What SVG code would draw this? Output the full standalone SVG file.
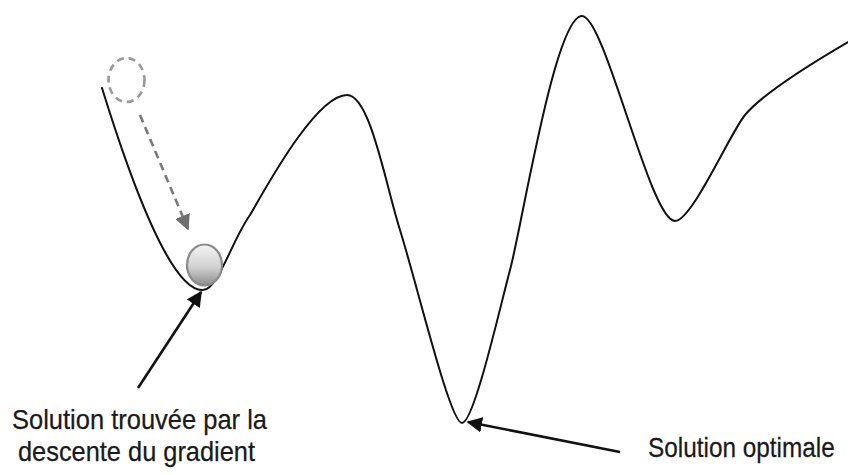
<svg xmlns="http://www.w3.org/2000/svg" width="848" height="475" viewBox="0 0 848 475">
  <defs>
    <style>
      .curve { fill: none; stroke: #111; stroke-width: 2; stroke-linecap: round; }
      .arrow { fill: none; stroke: #111; stroke-width: 2.6; }
      .dash { fill: none; stroke: #7a7a7a; stroke-width: 2.6; stroke-dasharray: 8 5; }
      .lbl { font-family: "Liberation Sans", Arial, sans-serif; font-size: 28px; fill: #1a1a1a; stroke: #1a1a1a; stroke-width: 0.25; }
    </style>
    <marker id="blackHead" viewBox="0 0 10 10" refX="9" refY="5" markerWidth="6" markerHeight="6" markerUnits="strokeWidth" orient="auto">
      <path d="M0,0 L10,5 L0,10 Z" fill="#111"/>
    </marker>
    <marker id="grayHead" viewBox="0 0 10 10" refX="9" refY="5" markerWidth="6" markerHeight="6" markerUnits="strokeWidth" orient="auto">
      <path d="M0,0 L10,5 L0,10 Z" fill="#6e6e6e"/>
    </marker>
    <linearGradient id="ballGrad" x1="0" y1="0" x2="0" y2="1">
      <stop offset="0" stop-color="#f4f4f4"/>
      <stop offset="0.55" stop-color="#d2d2d2"/>
      <stop offset="1" stop-color="#8c8c8c"/>
    </linearGradient>
  </defs>
  <rect width="848" height="475" fill="#ffffff"/>

  <g id="landscape">
    <path class="curve" d="M102,88 C132,185 172,292 203,290 C218,290 232,240 250,215 C262,195 315,95 347,95 C370,95 385,182 400,230 C418,288 450,423 462,423 C474,423 500,307 510,270 C522,226 555,16 582,16 C605,16 650,221 675,221 C692,221 730,133 745,115 C760,97 800,70 848,42"/>
  </g>

  <g id="ghost-ball">
    <ellipse cx="126.5" cy="80" rx="18" ry="22" fill="none" stroke="#9a9a9a" stroke-width="2.6" stroke-dasharray="7 5"/>
  </g>

  <g id="ball">
    <ellipse cx="204.5" cy="265" rx="17.5" ry="20.5" fill="url(#ballGrad)" stroke="#8a8a8a" stroke-width="2.2"/>
  </g>

  <g id="connectors">
    <line class="dash" x1="140" y1="115" x2="188" y2="229" marker-end="url(#grayHead)"/>
    <line class="arrow" x1="138" y1="388" x2="201" y2="292" marker-end="url(#blackHead)"/>
    <line class="arrow" x1="620" y1="452" x2="468" y2="422" marker-end="url(#blackHead)"/>
  </g>

  <g id="label-local">
    <text class="lbl" x="12" y="429" textLength="255" lengthAdjust="spacingAndGlyphs">Solution trouvée par la</text>
    <text class="lbl" x="18" y="461" textLength="237" lengthAdjust="spacingAndGlyphs">descente du gradient</text>
  </g>

  <g id="label-optimal">
    <text class="lbl" transform="translate(648,457) scale(0.87,1)" x="0" y="0">Solution optimale</text>
  </g>
</svg>
